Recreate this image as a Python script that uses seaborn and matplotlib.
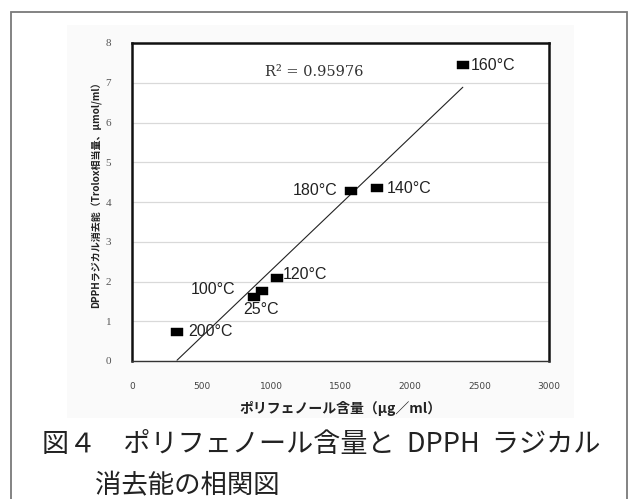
import matplotlib
matplotlib.use("Agg")
import matplotlib.pyplot as plt
from matplotlib.patches import Rectangle
from matplotlib.path import Path
import numpy as np
import pandas as pd
import seaborn as sns

# Extraction temperature of each sample
labels = ["25°C", "100°C", "120°C", "140°C", "160°C", "180°C", "200°C"]
# Polyphenol content (μg/ml)
polyphenol = [878, 935, 1043, 1762, 2380, 1575, 324]
# DPPH radical scavenging activity (Trolox equivalent, μmol/ml)
dpph = [1.60, 1.77, 2.10, 4.35, 7.44, 4.28, 0.74]

x_ticks = [0, 500, 1000, 1500, 2000, 2500, 3000]
y_ticks = [0, 1, 2, 3, 4, 5, 6, 7, 8]
r2_text = "R² = 0.95976"

# label offsets (points) relative to each marker
label_offsets = {
    "25°C": ((5, -9), "center", "center"),
    "100°C": ((-19, 1), "right", "center"),
    "120°C": ((4, 2), "left", "center"),
    "140°C": ((7, 0), "left", "center"),
    "160°C": ((6, 0), "left", "center"),
    "180°C": ((-10, 0), "right", "center"),
    "200°C": ((8, 0), "left", "center"),
}

df = pd.DataFrame({"temp": labels, "poly": polyphenol, "dpph": dpph})

sns.set_style("white")
plt.rcParams["font.family"] = ["Noto Sans CJK JP", "DejaVu Sans"]

W, H = 629, 499
fig = plt.figure(figsize=(W / 100, H / 100), dpi=100)

# outer frame of the figure box
fig.add_artist(Rectangle((11 / W, -0.05), (627 - 11) / W, (H - 12) / H + 0.05,
                         transform=fig.transFigure, fill=False,
                         edgecolor="#7a7a7a", linewidth=1.3, zorder=0))
# faint chart-area background
fig.add_artist(Rectangle((67 / W, 1 - 418 / H), (574 - 67) / W, (418 - 25) / H,
                         transform=fig.transFigure, facecolor="#fafafa",
                         edgecolor="none", zorder=0))

ax = fig.add_axes([132 / W, 1 - 361 / H, (549 - 132) / W, (361 - 43) / H])
ax.set_facecolor("white")

# flat rectangular marker
rect_marker = Path([(-1, -0.72), (1, -0.72), (1, 0.72), (-1, 0.72), (-1, -0.72)],
                   [Path.MOVETO, Path.LINETO, Path.LINETO, Path.LINETO, Path.CLOSEPOLY])

sns.regplot(data=df, x="poly", y="dpph", ax=ax, scatter=False, ci=None,
            truncate=True, line_kws={"color": "#222222", "linewidth": 0.8})
sns.scatterplot(data=df, x="poly", y="dpph", ax=ax, marker=rect_marker,
                s=80, color="black", edgecolor="black", linewidth=0.3,
                zorder=5, legend=False)

for t, xv, yv in zip(labels, polyphenol, dpph):
    (dx, dy), ha, va = label_offsets[t]
    ax.annotate(t, (xv, yv), xytext=(dx, dy), textcoords="offset points",
                ha=ha, va=va, fontsize=11.5, color="#222222",
                family=["Liberation Sans", "DejaVu Sans"], zorder=6)

ax.text(0.319, 0.909, r2_text, transform=ax.transAxes, ha="left", va="center",
        fontsize=10.5, color="#333333", family=["DejaVu Serif"])

ax.set_xlim(0, 3000)
ax.set_ylim(0, 8)
ax.set_xticks(x_ticks)
ax.set_yticks(y_ticks)
ax.set_xticklabels([str(v) for v in x_ticks], fontsize=6.5, color="#444444",
                   family=["DejaVu Sans"])
ax.set_yticklabels([str(v) for v in y_ticks], fontsize=8, color="#555555",
                   family=["Liberation Serif", "DejaVu Serif"])
ax.tick_params(axis="x", length=3, width=0.6, color="#bbbbbb", pad=12, direction="out")
ax.tick_params(axis="y", length=4, width=0.6, color="#bbbbbb", pad=11, direction="out")
ax.yaxis.grid(True, color="#d9d9d9", linewidth=0.9)
ax.xaxis.grid(False)
ax.set_axisbelow(True)

for side in ["left", "top", "right"]:
    ax.spines[side].set_visible(True)
    ax.spines[side].set_color("#111111")
    ax.spines[side].set_linewidth(1.8)
ax.spines["bottom"].set_color("#333333")
ax.spines["bottom"].set_linewidth(1.0)

ax.set_xlabel("ポリフェノール含量（μg／ml）", fontsize=10, fontweight="bold",
              color="#222222", labelpad=7)
ax.set_ylabel("DPPHラジカル消去能（Trolox相当量、μmol/ml）", fontsize=7.2,
              fontweight="bold", color="#222222")
ax.yaxis.set_label_coords(-0.072, 0.53)
ax.yaxis.label.set_va("bottom")

# caption below the chart
fig.text(42 / W, 1 - 444 / H, "図４　ポリフェノール含量と  DPPH  ラジカル",
         ha="left", va="center", fontsize=19.5, color="#222222")
fig.text(95 / W, 1 - 486 / H, "消去能の相関図",
         ha="left", va="center", fontsize=19, color="#222222")

fig.savefig("out.png", dpi=100)
